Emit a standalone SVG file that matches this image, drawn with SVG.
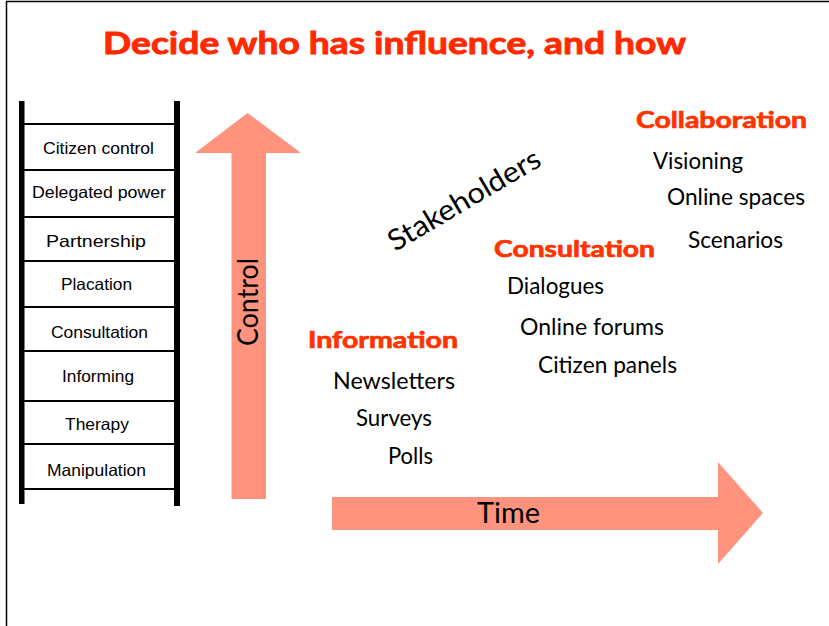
<svg xmlns="http://www.w3.org/2000/svg" width="829" height="626" viewBox="0 0 829 626">
<style>
.frame{stroke:#000;stroke-width:1.5;fill:none}
.rail{fill:#000}
.rung{stroke:#000;stroke-width:2}
.lad{font-family:"Liberation Sans",Arial,sans-serif;font-size:16.5px;fill:#000;text-anchor:middle}
.arrow{fill:#FF937E}
.gs{font-family:Lato,"Open Sans",sans-serif;fill:#000}
.item{font-size:22.5px}
.head{font-family:Lato,"Open Sans",sans-serif;font-weight:bold;font-size:22px;fill:#FF3300;stroke:#FF3300;stroke-width:0.7}
.title{font-family:Lato,"Open Sans",sans-serif;font-weight:bold;font-size:31px;fill:#FF2A00;stroke:#FF2A00;stroke-width:0.9}
</style>
<rect width="829" height="626" fill="#fff"/>
<g id="frame">
<line class="frame" x1="6" y1="1.5" x2="829" y2="1.5"/>
<line class="frame" x1="6.5" y1="1.5" x2="6.5" y2="626"/>
</g>
<g id="title"><text class="title" x="103" y="54" textLength="583" lengthAdjust="spacingAndGlyphs">Decide who has influence, and how</text></g>
<g id="ladder">
<rect class="rail" x="19" y="101" width="5.5" height="403"/>
<rect class="rail" x="174" y="101" width="6" height="405"/>
<line class="rung" x1="24" y1="124" x2="174" y2="124"/>
<line class="rung" x1="24" y1="170" x2="174" y2="170"/>
<line class="rung" x1="24" y1="217" x2="174" y2="217"/>
<line class="rung" x1="24" y1="261" x2="174" y2="261"/>
<line class="rung" x1="24" y1="307" x2="174" y2="307"/>
<line class="rung" x1="24" y1="351" x2="174" y2="351"/>
<line class="rung" x1="24" y1="401" x2="174" y2="401"/>
<line class="rung" x1="24" y1="444" x2="174" y2="444"/>
<line class="rung" x1="24" y1="489" x2="174" y2="489"/>
<text class="lad" x="98.5" y="154" textLength="111" lengthAdjust="spacingAndGlyphs">Citizen control</text>
<text class="lad" x="99" y="198" textLength="134" lengthAdjust="spacingAndGlyphs">Delegated power</text>
<text class="lad" x="96" y="247" textLength="100" lengthAdjust="spacingAndGlyphs">Partnership</text>
<text class="lad" x="96.5" y="290" textLength="71" lengthAdjust="spacingAndGlyphs">Placation</text>
<text class="lad" x="99.5" y="338" textLength="97" lengthAdjust="spacingAndGlyphs">Consultation</text>
<text class="lad" x="98" y="382" textLength="72" lengthAdjust="spacingAndGlyphs">Informing</text>
<text class="lad" x="97" y="430" textLength="64" lengthAdjust="spacingAndGlyphs">Therapy</text>
<text class="lad" x="96.5" y="476" textLength="99" lengthAdjust="spacingAndGlyphs">Manipulation</text>
</g>
<g id="control-arrow">
<polygon class="arrow" points="247.5,113 301,153 266,153 266,499 231.5,499 231.5,153 195,153"/>
<text class="gs" transform="translate(258,346) rotate(-90)" font-size="28" textLength="88" lengthAdjust="spacingAndGlyphs">Control</text>
</g>
<g id="time-arrow">
<polygon class="arrow" points="332,497 718,497 718,462 763,513 718,564 718,530 332,530"/>
<text class="gs" x="477" y="523" font-size="28" textLength="63" lengthAdjust="spacingAndGlyphs">Time</text>
</g>
<g id="stakeholders"><text class="gs" transform="translate(395,252) rotate(-30.5)" font-size="29" textLength="172" lengthAdjust="spacingAndGlyphs">Stakeholders</text></g>
<g id="information">
<text class="head" x="308" y="348" textLength="150" lengthAdjust="spacingAndGlyphs">Information</text>
<text class="gs item" x="333" y="389" textLength="122" lengthAdjust="spacingAndGlyphs">Newsletters</text>
<text class="gs item" x="356" y="426" textLength="76" lengthAdjust="spacingAndGlyphs">Surveys</text>
<text class="gs item" x="388" y="464" textLength="45" lengthAdjust="spacingAndGlyphs">Polls</text>
</g>
<g id="consultation">
<text class="head" x="494" y="257" textLength="161" lengthAdjust="spacingAndGlyphs">Consultation</text>
<text class="gs item" x="507" y="294" textLength="97" lengthAdjust="spacingAndGlyphs">Dialogues</text>
<text class="gs item" x="520" y="335" textLength="144" lengthAdjust="spacingAndGlyphs">Online forums</text>
<text class="gs item" x="538" y="373" textLength="139" lengthAdjust="spacingAndGlyphs">Citizen panels</text>
</g>
<g id="collaboration">
<text class="head" x="636" y="128" textLength="171" lengthAdjust="spacingAndGlyphs">Collaboration</text>
<text class="gs item" x="653" y="169" textLength="90" lengthAdjust="spacingAndGlyphs">Visioning</text>
<text class="gs item" x="667" y="205" textLength="138" lengthAdjust="spacingAndGlyphs">Online spaces</text>
<text class="gs item" x="688" y="248" textLength="95" lengthAdjust="spacingAndGlyphs">Scenarios</text>
</g>
</svg>
